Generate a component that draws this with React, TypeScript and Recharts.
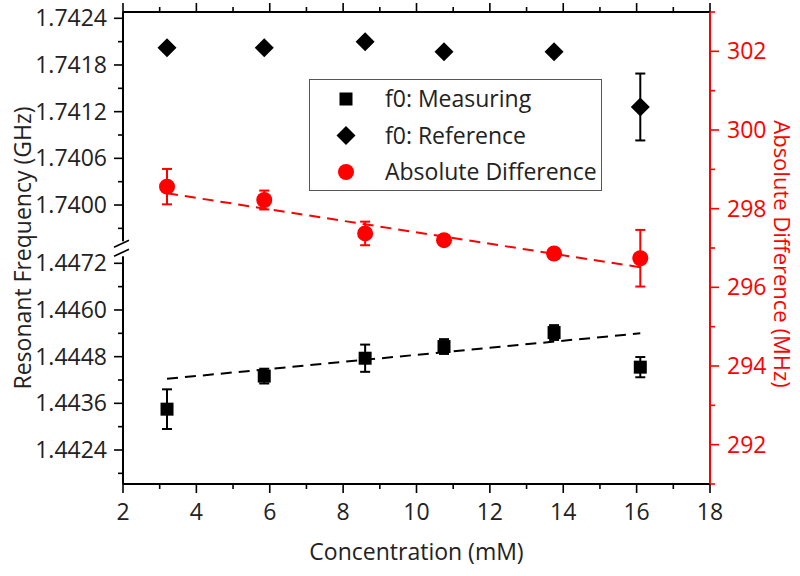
import React from 'react';
import { ComposedChart, Scatter, Line, XAxis, YAxis, ErrorBar, Legend } from 'recharts';

const FONT = '"Open Sans", "Noto Sans", sans-serif';
const RED = '#ff0000';
const BLACK = '#000000';

// ---- data ----
const concentration = [3.2, 5.85, 8.6, 10.75, 13.75, 16.1];
const f0Measuring = [1.44345, 1.4443, 1.44476, 1.44506, 1.44542, 1.44453];
const f0MeasuringErr = [0.00051, 0.00019, 0.00035, 0.00019, 0.00019, 0.00026];
const f0Reference = [1.74202, 1.74202, 1.7421, 1.74197, 1.74197, 1.74126];
const f0ReferenceErr = [0, 0, 0, 0, 0, 0.00043];
const absDiff = [298.56, 298.22, 297.37, 297.2, 296.86, 296.74];
const absDiffErr = [0.45, 0.24, 0.3, 0.12, 0.12, 0.72];

const fitX = [3.2, 16.1];
const measuringFit = [1.44423, 1.4454];
const absDiffFit = [298.39, 296.51];

// ---- ticks / domains ----
const xTicks = [2, 3, 4, 5, 6, 7, 8, 9, 10, 11, 12, 13, 14, 15, 16, 17, 18];
const xMajor = [2, 4, 6, 8, 10, 12, 14, 16, 18];
const topFreqTicks = [1.7397, 1.74, 1.7403, 1.7406, 1.7409, 1.7412, 1.7415, 1.7418, 1.7421, 1.7424];
const topFreqMajor = [1.74, 1.7406, 1.7412, 1.7418, 1.7424];
const lowFreqTicks = [1.4418, 1.4424, 1.443, 1.4436, 1.4442, 1.4448, 1.4454, 1.446, 1.4466, 1.4472];
const lowFreqMajor = [1.4424, 1.4436, 1.4448, 1.446, 1.4472];
const diffTicks = [291, 292, 293, 294, 295, 296, 297, 298, 299, 300, 301, 302, 303];
const diffMajor = [292, 294, 296, 298, 300, 302];

const xDomain = [2, 18];
const topFreqDomain = [1.736414, 1.742481];
const lowFreqDomain = [1.441526, 1.453661];
const diffDomain = [291, 303];

const legendItems = [
  { name: 'f0: Measuring', shape: 'square', color: BLACK },
  { name: 'f0: Reference', shape: 'diamond', color: BLACK },
  { name: 'Absolute Difference', shape: 'circle', color: RED },
];

const measuringData = concentration.map((x, i) => ({ x, y: f0Measuring[i], err: f0MeasuringErr[i] }));
const referenceData = concentration.map((x, i) => ({ x, y: f0Reference[i], err: f0ReferenceErr[i] }));
const diffData = concentration.map((x, i) => ({ x, y: absDiff[i], err: absDiffErr[i] }));
const measuringFitData = fitX.map((x, i) => ({ x, y: measuringFit[i] }));
const diffFitData = fitX.map((x, i) => ({ x, y: absDiffFit[i] }));

// ---- geometry ----
const W = 800;
const H = 576;
const LEFT_W = 123;
const RIGHT_W = 90;
const TOP_H = 12;
const BOTTOM_H = 92;
const FS = 23;

// ---- shapes ----
const SquareShape = (p: any) => (
  <rect x={p.cx - 6.5} y={p.cy - 6.5} width={13} height={13} fill={BLACK} />
);
const DiamondShape = (p: any) => (
  <polygon
    points={`${p.cx},${p.cy - 9.5} ${p.cx + 9.5},${p.cy} ${p.cx},${p.cy + 9.5} ${p.cx - 9.5},${p.cy}`}
    fill={BLACK}
  />
);
const CircleShape = (p: any) => <circle cx={p.cx} cy={p.cy} r={8} fill={RED} />;

// ---- ticks ----
const BottomTick = (p: any) => {
  const v = p.payload.value;
  const major = xMajor.includes(v);
  return (
    <g>
      <line x1={p.x} x2={p.x} y1={p.y} y2={p.y + (major ? 9 : 5)} stroke={BLACK} strokeWidth={1.6} />
      {major && (
        <text x={p.x} y={p.y + 36} textAnchor="middle" fontFamily={FONT} fontSize={FS} fill="#222">
          {v}
        </text>
      )}
    </g>
  );
};

const TopTick = (p: any) => {
  const v = p.payload.value;
  const major = xMajor.includes(v);
  return <line x1={p.x} x2={p.x} y1={p.y} y2={p.y - (major ? 9 : 5)} stroke={BLACK} strokeWidth={1.6} />;
};

const makeLeftTick = (majors: number[], withBreak: boolean) => (p: any) => {
  const v = p.payload.value;
  const major = majors.includes(v);
  const isBreak = withBreak && v === majors[majors.length - 1];
  return (
    <g>
      <line x1={p.x} x2={p.x - (major ? 9 : 5)} y1={p.y} y2={p.y} stroke={BLACK} strokeWidth={1.6} />
      {major && (
        <text x={p.x - 16} y={p.y + 8} textAnchor="end" fontFamily={FONT} fontSize={FS} fill="#222">
          {v.toFixed(4)}
        </text>
      )}
      {isBreak && (
        <g>
          <rect x={p.x - 3} y={p.y - 22} width={6} height={15} fill="#fff" />
          <line x1={p.x - 9} y1={p.y - 16} x2={p.x + 6} y2={p.y - 23} stroke={BLACK} strokeWidth={1.6} />
          <line x1={p.x - 9} y1={p.y - 7} x2={p.x + 6} y2={p.y - 14} stroke={BLACK} strokeWidth={1.6} />
        </g>
      )}
    </g>
  );
};
const LowTick = makeLeftTick(lowFreqMajor, true);
const TopFreqTick = makeLeftTick(topFreqMajor, false);

const RightTick = (p: any) => {
  const v = p.payload.value;
  const major = diffMajor.includes(v);
  return (
    <g>
      <line x1={p.x} x2={p.x + (major ? 9 : 5)} y1={p.y} y2={p.y} stroke={RED} strokeWidth={1.6} />
      {major && (
        <text x={p.x + 17} y={p.y + 8} textAnchor="start" fontFamily={FONT} fontSize={FS} fill={RED}>
          {v}
        </text>
      )}
    </g>
  );
};

// ---- titles ----
const XTitle = (p: any) => {
  const vb = p.viewBox;
  return (
    <text x={vb.x + vb.width / 2} y={vb.y + 76} textAnchor="middle" fontFamily={FONT} fontSize={FS} fill="#222">
      Concentration (mM)
    </text>
  );
};
const LeftTitle = (p: any) => {
  const vb = p.viewBox;
  const cx = vb.x + 22;
  const cy = vb.y + vb.height / 2;
  return (
    <text
      x={cx}
      y={cy}
      transform={`rotate(-90 ${cx} ${cy})`}
      textAnchor="middle"
      dominantBaseline="central"
      fontFamily={FONT}
      fontSize={FS}
      fill="#222"
    >
      Resonant Frequency (GHz)
    </text>
  );
};
const RightTitle = (p: any) => {
  const vb = p.viewBox;
  const cx = vb.x + 73;
  const cy = vb.y + vb.height / 2 + 6;
  return (
    <text
      x={cx}
      y={cy}
      transform={`rotate(90 ${cx} ${cy})`}
      textAnchor="middle"
      dominantBaseline="central"
      fontFamily={FONT}
      fontSize={22}
      fill={RED}
    >
      Absolute Difference (MHz)
    </text>
  );
};

// ---- legend ----
const LegendBox = () => {
  const w = 293;
  const h = 112;
  return (
    <svg width={w} height={h} style={{ display: 'block' }}>
      <rect x={0.5} y={0.5} width={w - 1} height={h - 1} fill="#fff" stroke="#555" strokeWidth={1} />
      {legendItems.map((it, i) => {
        const cy = 20 + i * 36.5;
        const cx = 37;
        let marker;
        if (it.shape === 'square') marker = <rect x={cx - 6.5} y={cy - 6.5} width={13} height={13} fill={it.color} />;
        else if (it.shape === 'diamond')
          marker = (
            <polygon points={`${cx},${cy - 9.5} ${cx + 9.5},${cy} ${cx},${cy + 9.5} ${cx - 9.5},${cy}`} fill={it.color} />
          );
        else marker = <circle cx={cx} cy={cy} r={8} fill={it.color} />;
        return (
          <g key={it.name}>
            {marker}
            <text x={76} y={cy + 8} fontFamily={FONT} fontSize={FS} fill="#222">
              {it.name}
            </text>
          </g>
        );
      })}
    </svg>
  );
};

export default function App() {
  return (
    <div style={{ position: 'absolute', left: 0, top: 0, width: W, height: H, background: '#fff' }}>
      <div style={{ position: 'absolute', left: 0, top: 0 }}>
        <ComposedChart width={W} height={H} margin={{ top: 0, right: 0, bottom: 0, left: 0 }}>
          <XAxis
            xAxisId="b"
            type="number"
            dataKey="x"
            domain={xDomain}
            ticks={xTicks}
            interval={0}
            allowDataOverflow
            height={BOTTOM_H}
            tickSize={0}
            tickMargin={0}
            tickLine={false}
            tick={BottomTick}
            axisLine={{ stroke: BLACK, strokeWidth: 2 }}
            label={XTitle}
          />
          <XAxis
            xAxisId="t"
            orientation="top"
            type="number"
            dataKey="x"
            domain={xDomain}
            ticks={xTicks}
            interval={0}
            allowDataOverflow
            height={TOP_H}
            tickSize={0}
            tickMargin={0}
            tickLine={false}
            tick={TopTick}
            axisLine={{ stroke: BLACK, strokeWidth: 2 }}
          />
          <YAxis
            yAxisId="low"
            type="number"
            dataKey="y"
            domain={lowFreqDomain}
            ticks={lowFreqTicks}
            interval={0}
            allowDataOverflow
            width={LEFT_W}
            tickSize={0}
            tickMargin={0}
            tickLine={false}
            tick={LowTick}
            axisLine={{ stroke: BLACK, strokeWidth: 2 }}
            label={LeftTitle}
          />
          <YAxis
            yAxisId="diff"
            orientation="right"
            type="number"
            dataKey="y"
            domain={diffDomain}
            ticks={diffTicks}
            interval={0}
            allowDataOverflow
            width={RIGHT_W}
            tickSize={0}
            tickMargin={0}
            tickLine={false}
            tick={RightTick}
            axisLine={{ stroke: RED, strokeWidth: 2 }}
            label={RightTitle}
          />
          <Legend
            layout="vertical"
            align="center"
            verticalAlign="middle"
            wrapperStyle={{ left: 309, top: 79, width: 293, height: 112 }}
            content={LegendBox}
          />
          <Line
            xAxisId="b"
            yAxisId="low"
            data={measuringFitData}
            dataKey="y"
            type="linear"
            stroke={BLACK}
            strokeWidth={2}
            strokeDasharray="11 7"
            dot={false}
            activeDot={false}
            legendType="none"
            isAnimationActive={false}
          />
          <Line
            xAxisId="b"
            yAxisId="diff"
            data={diffFitData}
            dataKey="y"
            type="linear"
            stroke={RED}
            strokeWidth={2}
            strokeDasharray="11 7"
            dot={false}
            activeDot={false}
            legendType="none"
            isAnimationActive={false}
          />
          <Scatter
            name="f0: Measuring"
            xAxisId="b"
            yAxisId="low"
            data={measuringData}
            dataKey="y"
            shape={SquareShape}
            isAnimationActive={false}
          >
            <ErrorBar dataKey="err" direction="y" width={5} strokeWidth={2} stroke={BLACK} />
          </Scatter>
          <Scatter
            name="Absolute Difference"
            xAxisId="b"
            yAxisId="diff"
            data={diffData}
            dataKey="y"
            shape={CircleShape}
            isAnimationActive={false}
          >
            <ErrorBar dataKey="err" direction="y" width={5} strokeWidth={2} stroke={RED} />
          </Scatter>
        </ComposedChart>
      </div>
      <div style={{ position: 'absolute', left: 0, top: 0 }}>
        <ComposedChart width={W} height={H} margin={{ top: TOP_H, right: RIGHT_W, bottom: BOTTOM_H, left: 0 }}>
          <XAxis xAxisId="b" type="number" dataKey="x" domain={xDomain} allowDataOverflow hide />
          <YAxis
            yAxisId="top"
            type="number"
            dataKey="y"
            domain={topFreqDomain}
            ticks={topFreqTicks}
            interval={0}
            allowDataOverflow
            width={LEFT_W}
            tickSize={0}
            tickMargin={0}
            tickLine={false}
            tick={TopFreqTick}
            axisLine={false}
          />
          <Scatter
            name="f0: Reference"
            xAxisId="b"
            yAxisId="top"
            data={referenceData}
            dataKey="y"
            shape={DiamondShape}
            isAnimationActive={false}
          >
            <ErrorBar dataKey="err" direction="y" width={5} strokeWidth={2} stroke={BLACK} />
          </Scatter>
        </ComposedChart>
      </div>
    </div>
  );
}
